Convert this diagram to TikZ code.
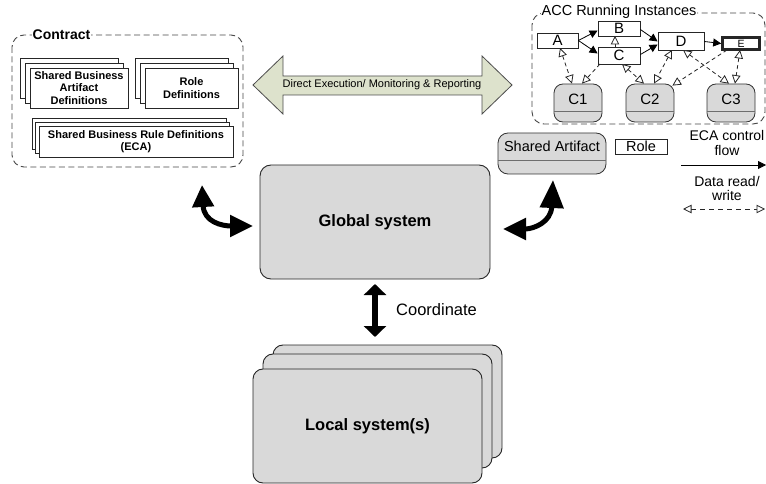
\documentclass[tikz,border=0pt]{standalone}
\usepackage{fontspec}
\setmainfont{Liberation Sans}
\usetikzlibrary{arrows.meta,calc}
\definecolor{boxgray}{RGB}{217,217,217}
\definecolor{sepgray}{RGB}{110,110,110}
\definecolor{arrowfill}{RGB}{221,226,204}
\definecolor{linegray}{RGB}{70,70,70}
\tikzset{
  stk/.style={draw=black!85, fill=white, line width=0.8pt, inner sep=0pt, align=center,
    font=\bfseries\fontsize{11}{12.5}\selectfont},
  gbox/.style={draw=black!85, fill=boxgray, rounded corners=11pt, line width=0.9pt,
    font=\bfseries\fontsize{16.5}{19}\selectfont},
  dbox/.style={draw=linegray, dash pattern=on 6pt off 3.5pt, rounded corners=12pt, line width=0.9pt},
  tbox/.style={draw=black!85, fill=white, line width=0.8pt, minimum height=15pt, inner sep=0pt,
    text height=10.5pt, text depth=0pt, font=\fontsize{15}{16}\selectfont},
  cbox/.style={draw=black!80, fill=boxgray, rounded corners=9pt, line width=0.8pt,
    minimum width=48pt, minimum height=38pt, inner sep=0pt, font=\fontsize{15}{17}\selectfont},
  sepline/.style={draw=sepgray, line width=1.6pt},
  solidar/.style={draw=black, line width=0.8pt, -{Triangle[length=8pt,width=8pt]}},
  dashar/.style={draw=black!85, line width=0.8pt, dash pattern=on 4pt off 3pt},
  ohead/.tip={Triangle[length=8.5pt,width=8.5pt,fill=white]},
  thickar/.style={draw=black, line width=5pt},
}
\begin{document}
\begin{tikzpicture}[x=1pt,y=-1pt]
\useasboundingbox (0,0) rectangle (766,484);

% ---------------- Contract ----------------
\draw[dbox] (12,35) rectangle (243,167);
\node[fill=white, inner xsep=1pt, inner ysep=0pt, font=\bfseries\fontsize{14}{16}\selectfont] (contractlbl) at (61.5,35) {Contract};

\node[stk, minimum width=98pt, minimum height=40pt] (sbadb) at (69,78) {};
\node[stk, minimum width=98pt, minimum height=40pt] (sbadm) at (74,83) {};
\node[stk, minimum width=98pt, minimum height=40pt] (sbad) at (79,88) {Shared Business\\Artifact\\Definitions};

\node[stk, minimum width=93pt, minimum height=40pt] (roleb) at (181.5,78) {};
\node[stk, minimum width=93pt, minimum height=40pt] (rolem) at (186.5,83) {};
\node[stk, minimum width=93pt, minimum height=40pt] (roledef) at (191.5,88) {Role\\Definitions};

\node[stk, minimum width=194pt, minimum height=31pt] (sbrdb) at (129,134) {};
\node[stk, minimum width=194pt, minimum height=31pt] (sbrdm) at (132.5,138) {};
\node[stk, minimum width=194pt, minimum height=31pt] (sbrd) at (136,141.5) {Shared Business Rule Definitions\\(ECA)};

% ---------------- Big double arrow ----------------
\draw[draw=black!70, fill=arrowfill, line width=0.8pt]
  (253,85) -- (283,56) -- (283,76) -- (482,76) -- (482,56) -- (512,85)
  -- (482,114) -- (482,95) -- (283,95) -- (283,114) -- cycle;
\node[font=\fontsize{11}{13}\selectfont, inner sep=0pt] (direct) at (382,85) {Direct Execution/ Monitoring \& Reporting};

% ---------------- ACC Running Instances ----------------
\draw[dbox] (532,13) rectangle (765,124);
\node[fill=white, inner xsep=1pt, inner ysep=0pt, font=\fontsize{14.5}{16}\selectfont] (acclbl) at (619,12) {ACC Running Instances};

\node[cbox] (c1) at (578,103) {};
\node[cbox] (c2) at (650,103) {};
\node[cbox] (c3) at (731,103) {};
\foreach \n in {c1,c2,c3}{
  \draw[sepline] ($(\n.south west)+(0,-11)$) -- ($(\n.south east)+(0,-11)$);
}
\node[font=\fontsize{15}{17}\selectfont, inner sep=0pt] at (578,99) {C1};
\node[font=\fontsize{15}{17}\selectfont, inner sep=0pt] at (650,99) {C2};
\node[font=\fontsize{15}{17}\selectfont, inner sep=0pt] at (731,99) {C3};

\coordinate (pa) at (560,48);
\coordinate (pb) at (615,36);
\coordinate (pcb) at (615,47);
\coordinate (pc1) at (600,64);
\coordinate (pc2) at (622,64);
\coordinate (pd1) at (672,50);
\coordinate (pd2) at (683,50);
\coordinate (pe1) at (727,50);
\coordinate (pe2) at (740,50);

\node[tbox, minimum width=41pt] (A) at (557.5,40.5) {A};
\node[tbox, minimum width=42pt] (B) at (619,28.5) {B};
\node[tbox, minimum width=42pt, minimum height=17pt] (C) at (619,55.5) {C};
\node[tbox, minimum width=46pt, minimum height=18pt] (D) at (681,41.5) {D};
\node[tbox, minimum width=37pt, minimum height=12.5pt, text height=7.6pt, line width=2.6pt, font=\fontsize{10.5}{12}\selectfont] (E) at (741,43.5) {E};

\draw[dashar, {ohead}-{ohead}] (pa) -- ($(c1.north)+(-6,0)$);
\draw[dashar, -{ohead}] (pc1) -- ($(c1.north)+(4,0)$);
\draw[dashar, -{ohead}] (pcb) -- (pb);
\draw[dashar, {ohead}-{ohead}] (pc2) -- ($(c2.north)+(-6,0)$);
\draw[dashar, {ohead}-{ohead}] (pd1) -- ($(c2.north)+(4,0)$);
\draw[dashar, {ohead}-{ohead}] (pd2) -- ($(c3.north)+(-2,0)$);
\draw[dashar, -{ohead}] (pe1) -- ($(c2.north east)+(-2,2)$);
\draw[dashar, {ohead}-{ohead}] (pe2) -- ($(c3.north)+(4,0)$);

% control flow
\draw[solidar] (A.east) -- ($(B.west)+(0,2)$);
\draw[solidar] (A.east) -- ($(C.west)+(0,-2)$);
\draw[solidar] ($(B.east)+(0,1)$) -- (D.west);
\draw[solidar] ($(C.east)+(0,-1)$) -- ($(D.west)+(0,3)$);
\draw[solidar] (D.east) -- (E.west);

% ---------------- Shared artifact / Role / legend ----------------
\node[cbox, minimum width=108pt, minimum height=41pt, rounded corners=10pt] (sart) at (552,153.5) {};
\draw[sepline, line width=1pt] ($(sart.south west)+(0,-14)$) -- ($(sart.south east)+(0,-14)$);
\node[font=\fontsize{14.5}{16}\selectfont, inner sep=0pt] (sartlbl) at (552,146.5) {Shared Artifact};
\node[tbox, minimum width=52pt, font=\fontsize{14.5}{16}\selectfont] (role) at (641,146.5) {Role};

\node[align=center, inner sep=0pt, font=\fontsize{14}{15}\selectfont] (ecalbl) at (727,142.5) {ECA control\\flow};
\coordinate (eca1) at (681,165);
\coordinate (eca2) at (766,165);
\draw[solidar] (eca1) -- (eca2);
\node[align=center, inner sep=0pt, font=\fontsize{14}{14}\selectfont] (datalbl) at (727,188) {Data read/\\write};
\coordinate (dat1) at (683,209);
\coordinate (dat2) at (765,209);
\draw[dashar, dash pattern=on 5pt off 4pt, {ohead}-{ohead}] (dat1) -- (dat2);

% ---------------- Global system ----------------
\node[gbox, minimum width=230pt, minimum height=114pt] (global) at (375,222) {Global system};

\coordinate (lc1) at (202,185);
\coordinate (lc2) at (253,226);
\draw[thickar, {Triangle[length=22pt,width=21pt]}-{Triangle[length=23pt,width=21pt]}]
  (lc1) .. controls (204,222) and (222,226) .. (lc2);
\coordinate (rc1) at (553,180);
\coordinate (rc2) at (503,229);
\draw[thickar, {Triangle[length=28pt,width=23pt]}-{Triangle[length=23pt,width=21pt]}]
  (rc1) .. controls (551,222) and (534,229) .. (rc2);

% ---------------- Coordinate ----------------
\coordinate (co1) at (375,284);
\coordinate (co2) at (375,337);
\draw[thickar, line width=5.5pt, {Triangle[length=11pt,width=22pt]}-{Triangle[length=11pt,width=22pt]}] (co1) -- (co2);
\node[anchor=west, inner sep=0pt, font=\fontsize{16.5}{19}\selectfont] (coordlbl) at (396,310) {Coordinate};

% ---------------- Local systems ----------------
\node[gbox, rounded corners=10pt, minimum width=229pt, minimum height=113pt] (locb) at (387.5,401.5) {};
\node[gbox, rounded corners=10pt, minimum width=229pt, minimum height=114pt] (locm) at (377.5,411) {};
\node[gbox, rounded corners=10pt, minimum width=229pt, minimum height=114pt] (local) at (367.5,426) {Local system(s)};
\end{tikzpicture}
\end{document}
